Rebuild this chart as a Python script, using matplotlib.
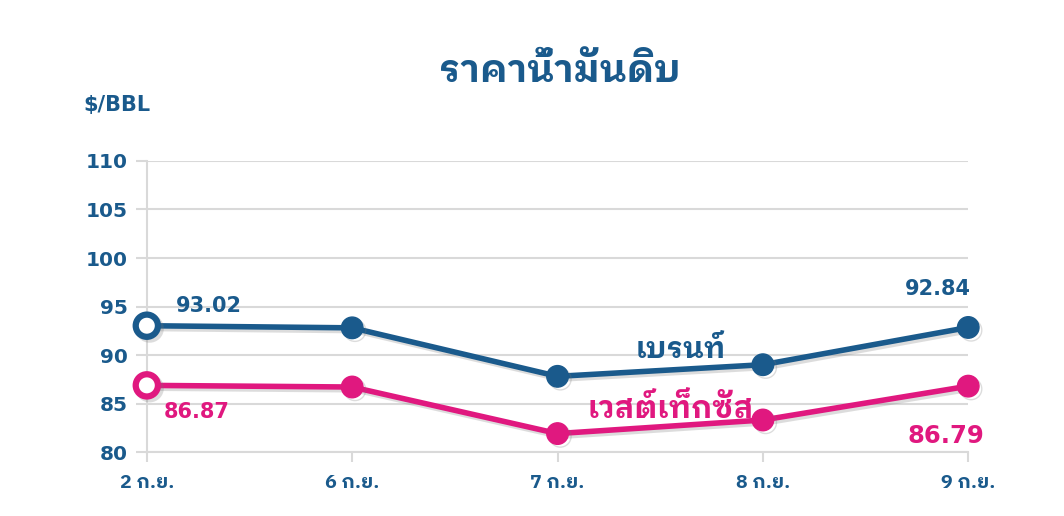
import matplotlib
matplotlib.use("Agg")
import matplotlib.pyplot as plt
import matplotlib.patheffects as pe

dates = ["2 ก.ย.", "6 ก.ย.", "7 ก.ย.", "8 ก.ย.", "9 ก.ย."]
brent = [93.02, 92.8, 87.8, 89.0, 92.84]
wti = [86.87, 86.7, 81.9, 83.3, 86.79]
yticks = [80, 85, 90, 95, 100, 105, 110]

BLUE = "#1a5a8c"
PINK = "#e0187f"
GRID = "#d9d9d9"
NUM = ["DejaVu Sans"]
THAI = ["IBM Plex Sans Thai Looped", "Noto Sans Thai Looped", "DejaVu Sans"]

plt.rcParams["font.family"] = NUM

fig = plt.figure(figsize=(10.64, 5.16), dpi=100)
ax = fig.add_axes([0.138, 0.124, 0.772, 0.564])

x = list(range(len(dates)))
shadow = [pe.SimpleLineShadow(offset=(2, -2), shadow_color="#777777", alpha=0.25), pe.Normal()]

for vals, col in [(brent, BLUE), (wti, PINK)]:
    ax.plot(x, vals, color=col, lw=4, zorder=3, path_effects=shadow, solid_capstyle="round")
    ax.plot(x[1:], vals[1:], "o", ms=15.5, color=col, zorder=4, clip_on=False, path_effects=shadow)
    ax.plot(x[:1], vals[:1], "o", ms=16, mfc="white", mec=col, mew=4.5, zorder=5,
            clip_on=False, path_effects=shadow)

ax.set_xlim(0, len(dates) - 1)
ax.set_ylim(80, 110)
ax.set_yticks(yticks)
ax.set_xticks(x)
ax.set_xticklabels(dates, family=THAI, fontsize=14, fontweight="bold", color=BLUE)
ax.tick_params(axis="y", labelsize=14.5, labelcolor=BLUE, color=GRID, length=8, width=1.5, pad=6)
ax.tick_params(axis="x", color=GRID, length=7, width=1.5, pad=9)
for t in ax.get_yticklabels():
    t.set_fontweight("bold")

ax.grid(axis="y", color=GRID, lw=1.5)
ax.set_axisbelow(True)
for s in ["top", "right"]:
    ax.spines[s].set_visible(False)
for s in ["left", "bottom"]:
    ax.spines[s].set_color(GRID)
    ax.spines[s].set_linewidth(1.5)

# value labels
lab = dict(ha="center", va="center", fontweight="bold", textcoords="offset points")
ax.annotate(f"{brent[0]:.2f}", (x[0], brent[0]), xytext=(45, 14), color=BLUE, fontsize=15, **lab)
ax.annotate(f"{wti[0]:.2f}", (x[0], wti[0]), xytext=(36, -19), color=PINK, fontsize=15, **lab)
ax.annotate(f"{brent[-1]:.2f}", (x[-1], brent[-1]), xytext=(-22, 28), color=BLUE, fontsize=15, **lab)
ax.annotate(f"{wti[-1]:.2f}", (x[-1], wti[-1]), xytext=(-16, -36), color=PINK, fontsize=17.5, **lab)

# series names
ax.text(2.60, 90.5, "เบรนท์", family=THAI, fontsize=21, fontweight="bold", color=BLUE,
        ha="center", va="center")
ax.text(2.55, 84.5, "เวสต์เท็กซัส", family=THAI, fontsize=22, fontweight="bold", color=PINK,
        ha="center", va="center")

fig.text(0.526, 0.862, "ราคาน้ำมันดิบ", family=THAI, fontsize=27, fontweight="bold",
         color=BLUE, ha="center", va="center")
fig.text(0.078, 0.797, "$/BBL", fontsize=15, fontweight="bold", color=BLUE,
         ha="left", va="center")

fig.savefig("out.png")
